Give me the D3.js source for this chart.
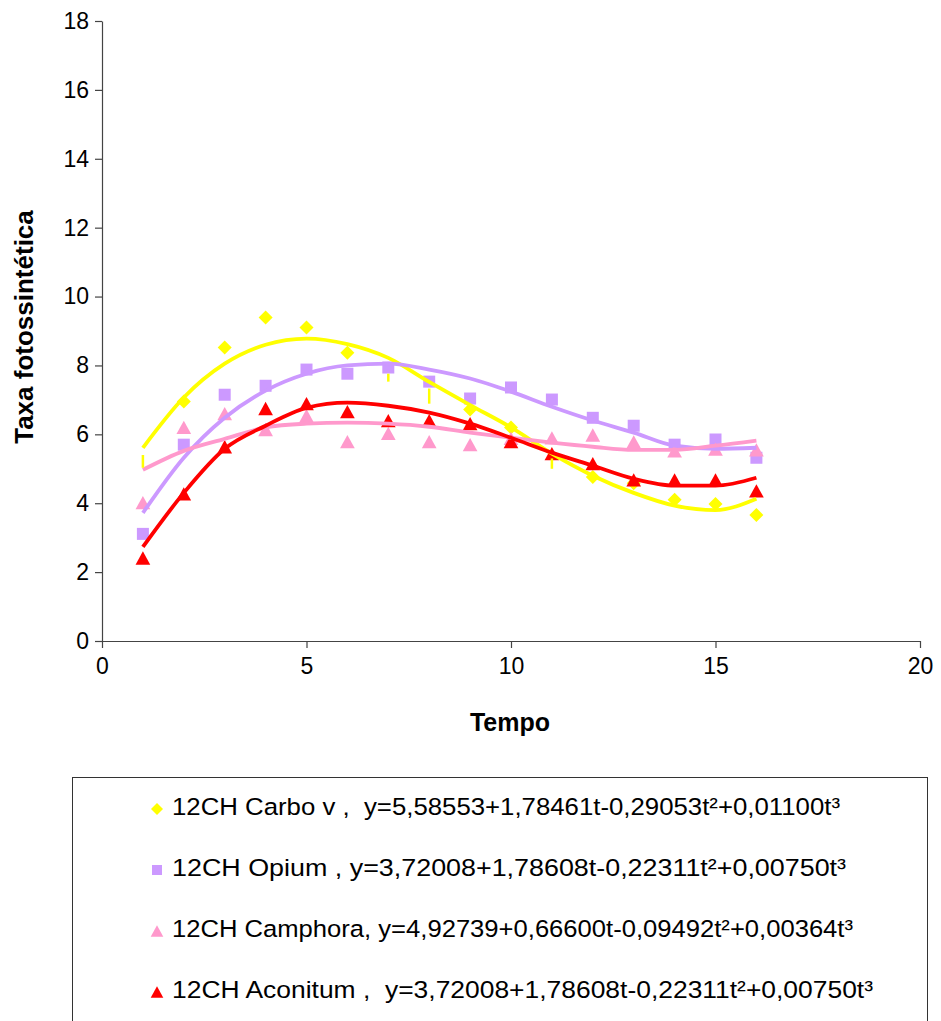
<!DOCTYPE html>
<html><head><meta charset="utf-8">
<script src="https://cdn.jsdelivr.net/npm/d3@7"></script>
<style>body{margin:0;background:#fff}svg{display:block}text{font-family:"Liberation Sans",Arial,sans-serif}</style>
</head><body>
<svg id="c" width="941" height="1021"></svg>
<script>
const tempo = [1,2,3,4,5,6,7,8,9,10,11,12,13,14,15,16];
const xTicks = [0,5,10,15,20];
const yTicks = [0,2,4,6,8,10,12,14,16,18];

// observed points (null = hidden in the picture)
const carboPts    = [null,6.95,8.52,9.39,9.10,8.37,null,null,6.72,6.20,null,4.76,4.58,4.10,3.98,3.66];
const opiumPts    = [3.11,5.70,7.15,7.41,7.88,7.76,7.94,7.53,7.04,7.36,7.01,6.48,6.25,5.70,5.85,5.32];
const camphoraPts = [4.02,6.20,6.60,6.14,6.54,5.79,6.03,5.79,5.70,5.88,5.90,5.98,5.78,5.52,5.57,5.55];
const aconitumPts = [2.41,4.27,5.64,6.75,6.89,6.66,6.40,6.40,6.31,5.79,5.44,5.15,4.68,4.68,4.68,4.36];

// fitted curves
const carboFit    = [5.61,7.07,8.05,8.60,8.78,8.62,8.22,7.52,6.85,6.20,5.44,4.80,4.30,3.93,3.80,4.13];
const opiumFit    = [3.72,5.32,6.48,7.27,7.76,8.00,8.05,7.88,7.62,7.24,6.80,6.40,6.05,5.67,5.58,5.61];
const camphoraFit = [4.97,5.52,5.87,6.20,6.31,6.34,6.31,6.22,6.05,5.90,5.76,5.64,5.55,5.55,5.67,5.82];
const aconitumFit = [2.73,4.30,5.58,6.25,6.77,6.92,6.83,6.63,6.31,5.90,5.47,5.09,4.71,4.51,4.51,4.74];

// short yellow vertical segments [t, low, high]
const carboDrops = [[1,5.03,5.40],[7,7.53,7.76],[8,6.89,7.33],[11,5.00,5.30]];

const seriesNames = ["12CH Carbo v ,  ","12CH Opium , ","12CH Camphora, ","12CH Aconitum ,  "];
const equations = ["y=5,58553+1,78461t-0,29053t²+0,01100t³",
                   "y=3,72008+1,78608t-0,22311t²+0,00750t³",
                   "y=4,92739+0,66600t-0,09492t²+0,00364t³",
                   "y=3,72008+1,78608t-0,22311t²+0,00750t³"];
const colors = ["#FFFF00","#CC99FF","#FF99CC","#FF0000"];
const shapes = ["diamond","square","triangle","triangle"];

const svg = d3.select("#c");
const x = d3.scaleLinear().domain([0,20]).range([102,920]);
const y = d3.scaleLinear().domain([0,18]).range([641,21]);

const xa = svg.append("g").attr("transform",`translate(0,${y(0)})`)
  .call(d3.axisBottom(x).tickValues(xTicks).tickSize(7).tickPadding(10).tickSizeOuter(0));
const ya = svg.append("g").attr("transform",`translate(${x(0)},0)`)
  .call(d3.axisLeft(y).tickValues(yTicks).tickSize(7).tickPadding(6).tickSizeOuter(0));
[xa,ya].forEach(a=>{
  a.selectAll("path,line").attr("stroke","#444").attr("stroke-width",1.2);
  a.selectAll("text").attr("font-size",23).attr("fill","#000").style("font-family",'"Liberation Sans",Arial,sans-serif');
});

svg.append("text").attr("x",510).attr("y",731).attr("text-anchor","middle")
  .attr("font-size",25).attr("font-weight","bold").text("Tempo");
svg.append("text").attr("transform","translate(33,327) rotate(-90)").attr("text-anchor","middle")
  .attr("font-size",26).attr("font-weight","bold").text("Taxa fotossintética");

const fits = [carboFit,opiumFit,camphoraFit,aconitumFit];
const pts = [carboPts,opiumPts,camphoraPts,aconitumPts];

function drawMarker(g, shape, cx, cy, size){
  if(shape==="triangle"){
    const h=size*0.95, w=size*1.05;
    g.append("path").attr("d",`M${cx},${cy-h/2}L${cx+w/2},${cy+h/2}L${cx-w/2},${cy+h/2}Z`);
  } else if(shape==="diamond"){
    g.append("path").attr("d",`M${cx},${cy-size/2}L${cx+size/2},${cy}L${cx},${cy+size/2}L${cx-size/2},${cy}Z`);
  } else {
    g.append("rect").attr("x",cx-size/2).attr("y",cy-size/2).attr("width",size).attr("height",size);
  }
}

const line = d3.line().x((d,i)=>x(tempo[i])).y(d=>y(d)).curve(d3.curveMonotoneX);

const order=[0,1,2,3];
order.forEach(k=>{
  const g = svg.append("g").attr("fill",colors[k]);
  pts[k].forEach((v,i)=>{ if(v!=null) drawMarker(g, shapes[k], x(tempo[i]), y(v), shapes[k]==="square"?12:14); });
});
order.forEach(k=>{
  svg.append("path").datum(fits[k]).attr("d",line).attr("fill","none")
    .attr("stroke",colors[k]).attr("stroke-width",3.8).attr("stroke-linejoin","round");
});
svg.append("g").selectAll("line").data(carboDrops).join("line")
  .attr("x1",d=>x(d[0])).attr("x2",d=>x(d[0])).attr("y1",d=>y(d[1])).attr("y2",d=>y(d[2]))
  .attr("stroke",colors[0]).attr("stroke-width",2.5);

// legend
const lg = svg.append("g");
lg.append("rect").attr("x",72.5).attr("y",777.5).attr("width",855).attr("height",300)
  .attr("fill","none").attr("stroke","#333").attr("stroke-width",1);
const rowY = [807,868,929,990];
const rowLen = [668,674,681,701];
seriesNames.forEach((n,k)=>{
  const g = lg.append("g").attr("fill",colors[k]);
  drawMarker(g, shapes[k], 157, rowY[k]+2, shapes[k]==="square"?10:12);
  lg.append("text").attr("x",172).attr("y",rowY[k]+8).attr("font-size",24.5).attr("fill","#000")
    .attr("xml:space","preserve").style("white-space","pre")
    .attr("textLength",rowLen[k]).attr("lengthAdjust","spacingAndGlyphs")
    .text(n+equations[k]);
});
</script>
</body></html>
